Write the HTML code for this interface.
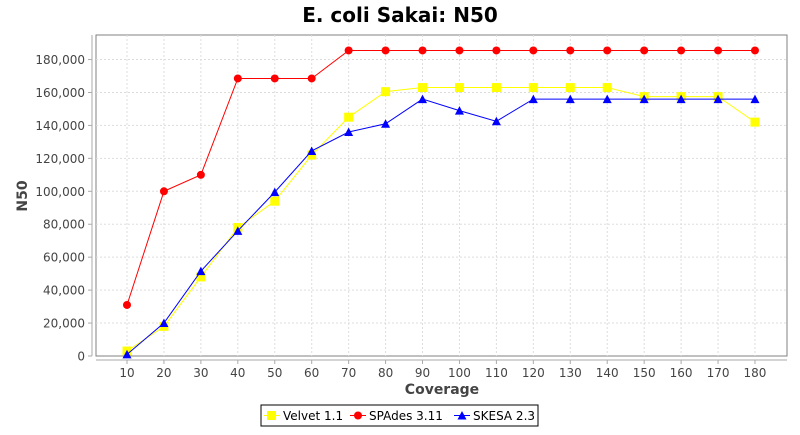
<!DOCTYPE html>
<html><head><meta charset="utf-8"><style>
body{margin:0;background:#fff;width:800px;height:430px;overflow:hidden}
svg{font-family:"DejaVu Sans","Liberation Sans",sans-serif}
</style></head><body>
<svg id="c" width="800" height="430" xmlns="http://www.w3.org/2000/svg">
<text x="400" y="22" text-anchor="middle" font-size="20" font-weight="bold" fill="#000">E. coli Sakai: N50</text>
<rect x="96" y="35" width="691" height="321" fill="#fff" stroke="#808080" stroke-width="1"/>
<g id="grid"></g>
<line x1="92" y1="35" x2="92" y2="356" stroke="#aaa"/>
<line x1="96" y1="360" x2="787" y2="360" stroke="#aaa"/>
<g id="ticks" font-size="12" fill="#444"></g>
<text x="442" y="394" text-anchor="middle" font-size="14" font-weight="bold" fill="#444">Coverage</text>
<text transform="translate(27,196) rotate(-90)" text-anchor="middle" font-size="14" font-weight="bold" fill="#444">N50</text>
<g id="series"></g>
<rect x="261" y="405" width="277" height="21" fill="#fff" stroke="#000"/>
<rect x="267" y="411" width="9" height="9" fill="#ffff00"/><line x1="264" y1="415.5" x2="280" y2="415.5" stroke="#ffff00"/>
<text x="283" y="420" font-size="12" fill="#000">Velvet 1.1</text>
<line x1="350" y1="415.5" x2="366" y2="415.5" stroke="#f00"/><circle cx="358" cy="415.5" r="4" fill="#f00"/>
<text x="369" y="420" font-size="12" fill="#000">SPAdes 3.11</text>
<line x1="454" y1="415.5" x2="470" y2="415.5" stroke="#00f"/><polygon points="462,411 466.5,419.5 457.5,419.5" fill="#00f"/>
<text x="473" y="420" font-size="12" fill="#000">SKESA 2.3</text>
</svg>
<script>
const NS="http://www.w3.org/2000/svg";
function el(p,t,a,txt){const e=document.createElementNS(NS,t);for(const k in a)e.setAttribute(k,a[k]);if(txt!=null)e.textContent=txt;document.getElementById(p).appendChild(e);return e;}
const X=c=>127+(c-10)*3.694, Y=v=>356-v*32.94/20000;
for(let c=10;c<=180;c+=10){const x=X(c);
el("grid","line",{x1:x,y1:35,x2:x,y2:356,stroke:"#ddd","stroke-dasharray":"2,2"});
el("ticks","line",{x1:x,y1:360,x2:x,y2:364,stroke:"#aaa"});
el("ticks","text",{x:x,y:377,"text-anchor":"middle"},c);}
for(let v=0;v<=180000;v+=20000){const y=Y(v);
if(v>0)el("grid","line",{x1:96,y1:y,x2:787,y2:y,stroke:"#ddd","stroke-dasharray":"2,2"});
el("ticks","line",{x1:88,y1:y,x2:92,y2:y,stroke:"#aaa"});
el("ticks","text",{x:85,y:y+4.5,"text-anchor":"end"},v.toLocaleString("en-US"));}
const cov=[];for(let c=10;c<=180;c+=10)cov.push(c);
const velvet=[3000,18000,48000,78000,94000,122000,145000,160500,163000,163000,163000,163000,163000,163000,157500,157500,157500,142000];
const spades=[31000,100000,110000,168500,168500,168500,185500,185500,185500,185500,185500,185500,185500,185500,185500,185500,185500,185500];
const skesa=[1000,20000,51500,76000,99500,124500,136000,141000,156000,149000,142500,156000,156000,156000,156000,156000,156000,156000];
function draw(d,col,shape){
el("series","polyline",{points:d.map((v,i)=>X(cov[i])+","+Y(v)).join(" "),fill:"none",stroke:col,"stroke-width":1});
d.forEach((v,i)=>{const x=X(cov[i]),y=Y(v);
if(shape=="s")el("series","rect",{x:x-4.5,y:y-4.5,width:9,height:9,fill:col});
else if(shape=="c")el("series","circle",{cx:x,cy:y,r:4,fill:col});
else el("series","polygon",{points:`${x},${y-4.5} ${x+4.5},${y+4} ${x-4.5},${y+4}`,fill:col});});}
draw(velvet,"#ffff00","s");draw(spades,"#ff0000","c");draw(skesa,"#0000ff","t");
</script>
</body></html>
